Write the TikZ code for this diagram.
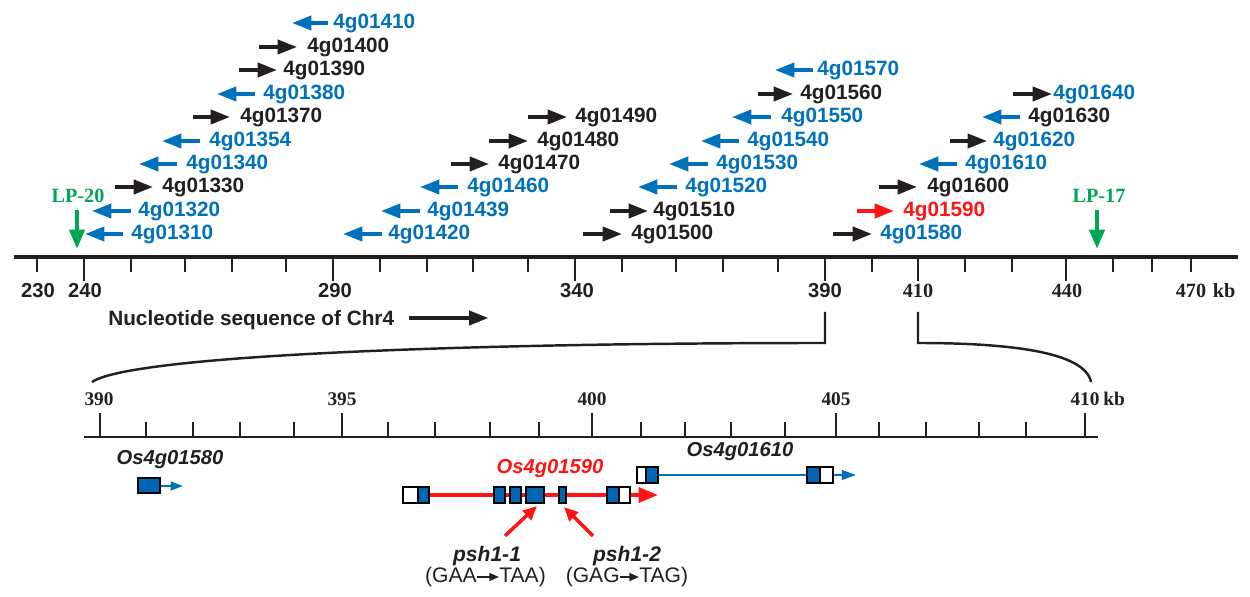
\documentclass[tikz,border=0pt]{standalone}
\usepackage{fontspec}
\setmainfont{Liberation Sans}
\newfontfamily\tnr{Liberation Serif}
\usetikzlibrary{arrows.meta}
\definecolor{geneblue}{RGB}{0,114,188}
\definecolor{geneblack}{RGB}{35,31,32}
\definecolor{genered}{RGB}{255,20,20}
\definecolor{lpgreen}{RGB}{0,166,81}
\definecolor{exonblue}{RGB}{0,101,179}

\tikzset{
  glabel/.style={anchor=west, inner sep=0pt, font=\fontsize{11.8}{13}\selectfont\bfseries},
  garrow/.style={line width=2.1pt, -{Triangle[length=11pt,width=8pt]}},
  axlbl/.style={inner sep=0pt, geneblack, font=\fontsize{11.5}{13}\selectfont\bfseries},
  axlblser/.style={inner sep=0pt, geneblack, font=\fontsize{11.5}{13}\selectfont\tnr\bfseries},
  lparrow/.style={lpgreen, line width=2.5pt, -{Triangle[length=11pt,width=8.5pt]}},
  axisline/.style={geneblack, line width=1.8pt},
  zoomline/.style={geneblack, line width=1.4pt},
  exon/.style={draw=black, line width=0.8pt, fill=exonblue},
  utr/.style={draw=black, line width=0.8pt, fill=white},
  gname/.style={inner sep=0pt, font=\fontsize{11.5}{13}\selectfont\bfseries\itshape},
  codon/.style={inner sep=0pt, geneblack, font=\fontsize{12}{14}\selectfont},
  mutarrow/.style={genered, line width=2pt, -{Triangle[length=8pt,width=7pt]}},
}

\begin{document}
\begin{tikzpicture}[x=0.02cm, y=-0.02cm]
  \useasboundingbox (0,0) rectangle (1250,597);

  % chromosome axis, 230--470 kb
  \draw[axisline] (14,257) -- (1238,257);
  \draw[axisline, line width=1.6pt]
    (37,257) -- ++(0,15)  (84,257) -- ++(0,24)  (131,257) -- ++(0,15)
    (185,257) -- ++(0,15) (232,257) -- ++(0,15) (286,257) -- ++(0,15)
    (333,257) -- ++(0,24) (380,257) -- ++(0,15) (427,257) -- ++(0,15)
    (473,257) -- ++(0,15) (528,257) -- ++(0,15) (575,257) -- ++(0,24)
    (622,257) -- ++(0,15) (676,257) -- ++(0,15) (723,257) -- ++(0,15)
    (778,257) -- ++(0,15) (825,257) -- ++(0,24) (872,257) -- ++(0,15)
    (918,257) -- ++(0,24) (965,257) -- ++(0,15) (1012,257) -- ++(0,15)
    (1066,257) -- ++(0,24) (1113,257) -- ++(0,15) (1152,257) -- ++(0,15)
    (1191,257) -- ++(0,15);

  \node[axlbl] (k230) at (38,291) {230};
  \node[axlbl] (k240) at (85,291) {240};
  \node[axlbl] (k290) at (335,291) {290};
  \node[axlbl] (k340) at (577,291) {340};
  \node[axlbl] (k390) at (825,291) {390};
  \node[axlblser] (k410) at (918,291) {410};
  \node[axlblser] (k440) at (1067,291) {440};
  \node[axlblser] (k470) at (1191,291) {470};
  \node[axlblser] (kb) at (1224,291) {kb};

  \node[glabel, geneblack] (nuc) at (108,320) {Nucleotide sequence of Chr4};
  \draw[garrow, geneblack] (nuc.east) ++(15,-2) -- ++(79,0);

  % markers
  \node[axlblser, lpgreen] (lp20) at (78,196) {LP-20};
  \coordinate (lp20tip) at (77,249);
  \draw[lparrow] (lp20.south -| lp20tip) ++(0,7) -- (lp20tip);
  \node[axlblser, lpgreen] (lp17) at (1099,196) {LP-17};
  \coordinate (lp17tip) at (1097,249);
  \draw[lparrow] (lp17.south -| lp17tip) ++(0,7) -- (lp17tip);

  % predicted genes, row by row from the axis up
  \node[glabel, geneblue] (g01310) at (131,234) {4g01310};
  \draw[garrow, geneblue] (123,234) -- (85,234);
  \node[glabel, geneblue] (g01420) at (388,234) {4g01420};
  \draw[garrow, geneblue] (382,234) -- (343,234);
  \node[glabel, geneblack] (g01500) at (631,234) {4g01500};
  \draw[garrow, geneblack] (583,234) -- (622,234);
  \node[glabel, geneblue] (g01580) at (880,234) {4g01580};
  \draw[garrow, geneblack] (833,234) -- (872,234);

  \node[glabel, geneblue] (g01320) at (138,211) {4g01320};
  \draw[garrow, geneblue] (131,211) -- (92,211);
  \node[glabel, geneblue] (g01439) at (427,211) {4g01439};
  \draw[garrow, geneblue] (420,211) -- (381,211);
  \node[glabel, geneblack] (g01510) at (653,211) {4g01510};
  \draw[garrow, geneblack] (610,211) -- (648,211);
  \node[glabel, genered] (g01590) at (903,211) {4g01590};
  \draw[garrow, genered] (857,211) -- (894,211);

  \node[glabel, geneblack] (g01330) at (162,187) {4g01330};
  \draw[garrow, geneblack] (115,187) -- (153,187);
  \node[glabel, geneblue] (g01460) at (467,187) {4g01460};
  \draw[garrow, geneblue] (458,187) -- (420,187);
  \node[glabel, geneblue] (g01520) at (685,187) {4g01520};
  \draw[garrow, geneblue] (677,187) -- (638,187);
  \node[glabel, geneblack] (g01600) at (927,187) {4g01600};
  \draw[garrow, geneblack] (879,187) -- (917,187);

  \node[glabel, geneblue] (g01340) at (186,164) {4g01340};
  \draw[garrow, geneblue] (177,164) -- (139,164);
  \node[glabel, geneblack] (g01470) at (498,164) {4g01470};
  \draw[garrow, geneblack] (451,164) -- (489,164);
  \node[glabel, geneblue] (g01530) at (716,164) {4g01530};
  \draw[garrow, geneblue] (708,164) -- (669,164);
  \node[glabel, geneblue] (g01610) at (965,164) {4g01610};
  \draw[garrow, geneblue] (957,164) -- (919,164);

  \node[glabel, geneblue] (g01354) at (209,141) {4g01354};
  \draw[garrow, geneblue] (200,141) -- (162,141);
  \node[glabel, geneblack] (g01480) at (537,141) {4g01480};
  \draw[garrow, geneblack] (489,141) -- (528,141);
  \node[glabel, geneblue] (g01540) at (747,141) {4g01540};
  \draw[garrow, geneblue] (739,141) -- (701,141);
  \node[glabel, geneblue] (g01620) at (993,141) {4g01620};
  \draw[garrow, geneblack] (950,141) -- (987,141);

  \node[glabel, geneblack] (g01370) at (240,117) {4g01370};
  \draw[garrow, geneblack] (193,117) -- (230,117);
  \node[glabel, geneblack] (g01490) at (575,117) {4g01490};
  \draw[garrow, geneblack] (528,117) -- (567,117);
  \node[glabel, geneblue] (g01550) at (781,117) {4g01550};
  \draw[garrow, geneblue] (771,117) -- (732,117);
  \node[glabel, geneblack] (g01630) at (1028,117) {4g01630};
  \draw[garrow, geneblue] (1020,117) -- (982,117);

  \node[glabel, geneblue] (g01380) at (263,94) {4g01380};
  \draw[garrow, geneblue] (255,94) -- (217,94);
  \node[glabel, geneblack] (g01560) at (800,94) {4g01560};
  \draw[garrow, geneblack] (758,94) -- (793,94);
  \node[glabel, geneblue] (g01640) at (1053,94) {4g01640};
  \draw[garrow, geneblack] (1013,94) -- (1052,94);

  \node[glabel, geneblack] (g01390) at (283,70) {4g01390};
  \draw[garrow, geneblack] (239,70) -- (277,70);
  \node[glabel, geneblue] (g01570) at (817,70) {4g01570};
  \draw[garrow, geneblue] (813,70) -- (775,70);

  \node[glabel, geneblack] (g01400) at (307,47) {4g01400};
  \draw[garrow, geneblack] (259,47) -- (297,47);

  \node[glabel, geneblue] (g01410) at (333,23) {4g01410};
  \draw[garrow, geneblue] (328,23) -- (292,23);

  % zoom into 390--410 kb
  \draw[zoomline] (825,312) -- (825,343) .. controls (450,343) and (130,356) .. (92,382);
  \draw[zoomline] (918,312) -- (918,343) .. controls (1010,343) and (1085,352) .. (1091,382);

  \draw[axisline, line width=1.6pt] (84,437) -- (1098,437);
  \draw[axisline, line width=1.4pt]
    (100,437) -- ++(0,-24) (146,437) -- ++(0,-15) (193,437) -- ++(0,-15)
    (240,437) -- ++(0,-15) (294,437) -- ++(0,-15) (342,437) -- ++(0,-24)
    (388,437) -- ++(0,-15) (435,437) -- ++(0,-15) (490,437) -- ++(0,-15)
    (539,437) -- ++(0,-15) (592,437) -- ++(0,-24) (641,437) -- ++(0,-15)
    (685,437) -- ++(0,-15) (731,437) -- ++(0,-15) (785,437) -- ++(0,-15)
    (836,437) -- ++(0,-24) (879,437) -- ++(0,-15) (926,437) -- ++(0,-15)
    (979,437) -- ++(0,-15) (1026,437) -- ++(0,-15) (1085,437) -- ++(0,-24);

  \node[axlblser, font=\fontsize{11}{13}\selectfont\tnr\bfseries] (z390) at (99,399) {390};
  \node[axlblser, font=\fontsize{11}{13}\selectfont\tnr\bfseries] (z395) at (342,399) {395};
  \node[axlblser, font=\fontsize{11}{13}\selectfont\tnr\bfseries] (z400) at (592,399) {400};
  \node[axlblser, font=\fontsize{11}{13}\selectfont\tnr\bfseries] (z405) at (836,399) {405};
  \node[axlblser, font=\fontsize{11}{13}\selectfont\tnr\bfseries] (z410) at (1085,399) {410};
  \node[axlblser, font=\fontsize{11}{13}\selectfont\tnr\bfseries] (zkb) at (1114,399) {kb};

  % Os4g01580
  \node[gname, geneblack] (os1580) at (170,460) {Os4g01580};
  \draw[geneblue, line width=1.2pt, -{Triangle[length=7pt,width=5pt]}] (160,486) -- (183,486);
  \draw[exon] (138,478) rectangle (160,493);

  % Os4g01590
  \node[gname, genered] (os1590) at (550,469) {Os4g01590};
  \draw[genered, line width=2pt, -{Triangle[length=11pt,width=8.5pt]}] (418,495) -- (658,495);
  \draw[utr] (403,487) rectangle (418,503);
  \draw[exon] (418,487) rectangle (429,503);
  \draw[exon] (494,487) rectangle (505,503);
  \draw[exon] (510,487) rectangle (521,503);
  \draw[exon] (526,487) rectangle (544,503);
  \draw[exon] (559,487) rectangle (566,503);
  \draw[exon] (607,487) rectangle (619,503);
  \draw[utr] (619,487) rectangle (630,503);

  % Os4g01610
  \node[gname, geneblack] (os1610) at (740,452) {Os4g01610};
  \draw[geneblue, line width=0.9pt, -{Triangle[length=8pt,width=5.5pt]}] (658,475) -- (856,475);
  \draw[utr] (637,467) rectangle (646,483);
  \draw[exon] (646,467) rectangle (658,483);
  \draw[exon] (807,467) rectangle (820,483);
  \draw[utr] (820,467) rectangle (833,483);

  % mutant alleles
  \node[gname, geneblack, font=\fontsize{12}{14}\selectfont\bfseries\itshape] (psh11) at (487,556) {psh1-1};
  \node[gname, geneblack, font=\fontsize{12}{14}\selectfont\bfseries\itshape] (psh12) at (627,556) {psh1-2};
  \coordinate (hit1) at (537,506);
  \coordinate (hit2) at (564,507);
  \draw[mutarrow] (psh11.north) ++(18,-10) -- (hit1);
  \draw[mutarrow] (psh12.north) ++(-34,-10) -- (hit2);

  \node[codon, anchor=east] (gaa) at (477,577) {(GAA};
  \node[codon, anchor=west] (taa) at (499,577) {TAA)};
  \draw[geneblack, line width=1pt, -{Triangle[length=5.5pt,width=4.5pt]}] (gaa) -- (taa);
  \node[codon, anchor=east] (gag) at (620,577) {(GAG};
  \node[codon, anchor=west] (tag) at (639,577) {TAG)};
  \draw[geneblack, line width=1pt, -{Triangle[length=5.5pt,width=4.5pt]}] (gag) -- (tag);
\end{tikzpicture}
\end{document}
